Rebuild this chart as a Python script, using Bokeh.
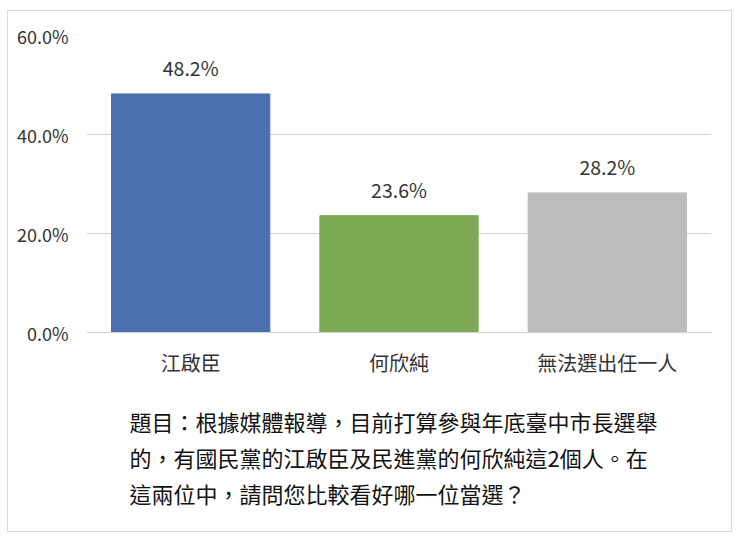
from bokeh.plotting import figure
from bokeh.models import ColumnDataSource, NumeralTickFormatter, Title, FixedTicker
from bokeh.core.properties import value
from bokeh.embed import file_html
from bokeh.resources import INLINE

candidates = ["江啟臣", "何欣純", "無法選出任一人"]
shares = [0.482, 0.236, 0.282]
share_labels = ["48.2%", "23.6%", "28.2%"]
bar_colors = ["#4b70af", "#7daa55", "#bcbcbc"]
y_ticks = [0.0, 0.2, 0.4, 0.6]
caption = [
    "題目：根據媒體報導，目前打算參與年底臺中市長選舉",
    "的，有國民黨的江啟臣及民進黨的何欣純這2個人。在",
    "這兩位中，請問您比較看好哪一位當選？",
]

FONT = "Noto Sans CJK TC"

src = ColumnDataSource(data=dict(cat=candidates, val=shares, lab=share_labels, col=bar_colors))

p = figure(x_range=candidates, y_range=(0, 0.6), width=725, height=522,
           output_backend="svg", toolbar_location=None, tools="",
           min_border_left=78, min_border_right=22, min_border_top=24, min_border_bottom=201)
p.styles = {"border": "1px solid #d9d9d9", "margin-left": "7px", "margin-top": "10px"}
p.outline_line_color = None
p.x_range.range_padding = 0

p.vbar(x="cat", top="val", width=0.76, color="col", source=src)
p.text(x="cat", y="val", text="lab", source=src, text_align="center", text_baseline="bottom",
       y_offset=-12, text_font_size="19.5px", text_color="#333333", text_font=value(FONT))

p.yaxis.ticker = FixedTicker(ticks=y_ticks)
p.yaxis.formatter = NumeralTickFormatter(format="0.0%")
p.yaxis.axis_line_color = None
p.yaxis.major_tick_line_color = None
p.yaxis.major_tick_out = 0
p.yaxis.minor_tick_line_color = None
p.yaxis.major_label_standoff = 18
p.yaxis.major_label_text_font_size = "18px"
p.yaxis.major_label_text_color = "#333333"
p.yaxis.major_label_text_font = FONT

p.xaxis.axis_line_color = "#d0d0d0"
p.xaxis.major_tick_line_color = None
p.xaxis.major_tick_out = 0
p.xaxis.minor_tick_line_color = None
p.xaxis.major_label_standoff = 15
p.xaxis.major_label_text_font_size = "20px"
p.xaxis.major_label_text_color = "#333333"
p.xaxis.major_label_text_font = FONT

p.xgrid.grid_line_color = None
p.ygrid.grid_line_color = "#d0d0d0"
p.ygrid.ticker = FixedTicker(ticks=y_ticks)

# blank spacer between the category labels and the question text
p.add_layout(Title(text=" ", text_font_size="10px", standoff=9), "below")
for line in caption:
    t = Title(text=line, align="left", offset=43, standoff=2,
              text_font_size="22px", text_color="#111111", text_font=FONT,
              text_font_style="normal")
    p.add_layout(t, "below")

open("out.html", "w").write(file_html(p, INLINE))
